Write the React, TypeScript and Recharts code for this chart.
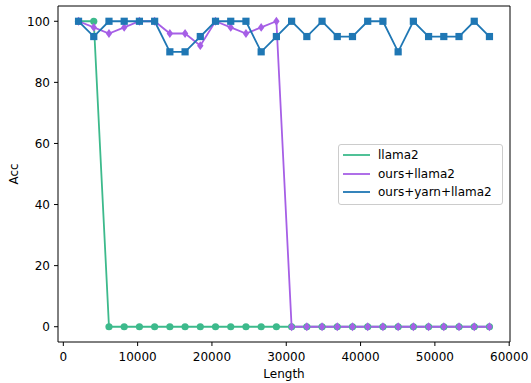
import React from 'react';
import { LineChart, Line, XAxis, YAxis, ReferenceArea, Label } from 'recharts';

const lengths = [2048, 4096, 6144, 8192, 10240, 12288, 14336, 16384, 18432, 20480, 22528, 24576, 26624, 28672, 30720, 32768, 34816, 36864, 38912, 40960, 43008, 45056, 47104, 49152, 51200, 53248, 55296, 57344];
const llama2 = [100, 100, 0, 0, 0, 0, 0, 0, 0, 0, 0, 0, 0, 0, 0, 0, 0, 0, 0, 0, 0, 0, 0, 0, 0, 0, 0, 0];
const oursLlama2 = [100, 98, 96, 98, 100, 100, 96, 96, 92, 100, 98, 96, 98, 100, 0, 0, 0, 0, 0, 0, 0, 0, 0, 0, 0, 0, 0, 0];
const oursYarnLlama2 = [100, 95, 100, 100, 100, 100, 90, 90, 95, 100, 100, 100, 90, 95, 100, 95, 100, 95, 95, 100, 100, 90, 100, 95, 95, 95, 100, 95];
const xTicks = [0, 10000, 20000, 30000, 40000, 50000, 60000];
const yTicks = [0, 20, 40, 60, 80, 100];
const seriesNames = ['llama2', 'ours+llama2', 'ours+yarn+llama2'];

const GREEN = '#3dba8c';
const PURPLE = '#a65fe6';
const BLUE = '#1f77b4';
const COLORS = [GREEN, PURPLE, BLUE];

const data = lengths.map((x, i) => ({
  x,
  llama2: llama2[i],
  ours: oursLlama2[i],
  yarn: oursYarnLlama2[i],
}));

const FONT = '"DejaVu Sans", sans-serif';
const X_DOMAIN: [number, number] = [-717, 60109];
const Y_DOMAIN: [number, number] = [-5, 105];

const SquareDot = (props: any) => {
  const { cx, cy, index } = props;
  if (cx == null || cy == null) return <g key={index} />;
  return <rect key={index} x={cx - 3.6} y={cy - 3.6} width={7.2} height={7.2} fill={BLUE} />;
};

const DiamondDot = (props: any) => {
  const { cx, cy, index } = props;
  if (cx == null || cy == null) return <g key={index} />;
  const w = 3.2;
  const h = 4.4;
  return (
    <path
      key={index}
      d={`M${cx},${cy - h}L${cx + w},${cy}L${cx},${cy + h}L${cx - w},${cy}Z`}
      fill={PURPLE}
    />
  );
};

const LegendBox = () => (
  <div
    style={{
      position: 'absolute',
      left: 338,
      top: 144,
      boxSizing: 'border-box',
      width: 165,
      height: 61,
      border: '1px solid #cccccc',
      borderRadius: 3,
      background: 'rgba(255,255,255,0.8)',
      paddingTop: 1,
      paddingLeft: 4,
      fontFamily: FONT,
      fontSize: 12,
      color: '#000',
    }}
  >
    {seriesNames.map((name, i) => (
      <div key={name} style={{ display: 'flex', alignItems: 'center', height: 18.5 }}>
        <svg width={27} height={4} style={{ display: 'block' }}>
          <line x1={0} y1={2} x2={27} y2={2} stroke={COLORS[i]} strokeWidth={1.8} />
        </svg>
        <span style={{ marginLeft: 8, whiteSpace: 'nowrap' }}>{name}</span>
      </div>
    ))}
  </div>
);

export default function App() {
  return (
    <div style={{ position: 'absolute', left: 0, top: 0, width: 531, height: 383 }}>
      <LineChart
        width={531}
        height={383}
        data={data}
        margin={{ top: 6, right: 21, bottom: 0, left: 0 }}
        style={{ fontFamily: FONT }}
      >
        <ReferenceArea
          x1={X_DOMAIN[0]}
          x2={X_DOMAIN[1]}
          y1={Y_DOMAIN[0]}
          y2={Y_DOMAIN[1]}
          fill="none"
          stroke="#000"
          strokeWidth={1}
          fillOpacity={0}
        />
        <XAxis
          dataKey="x"
          type="number"
          domain={X_DOMAIN}
          ticks={xTicks}
          allowDataOverflow
          height={41}
          axisLine={false}
          tickLine={{ stroke: '#000', strokeWidth: 1 }}
          tickSize={4}
          tickMargin={6}
          tick={{ fontSize: 12, fill: '#000', fontFamily: FONT }}
          interval={0}
        >
          <Label value="Length" position="insideBottom" offset={5.5} style={{ fontSize: 12, fill: '#000', fontFamily: FONT }} />
        </XAxis>
        <YAxis
          type="number"
          domain={Y_DOMAIN}
          ticks={yTicks}
          allowDataOverflow
          width={58}
          axisLine={false}
          tickLine={{ stroke: '#000', strokeWidth: 1 }}
          tickSize={4}
          tickMargin={4}
          tick={{ fontSize: 12, fill: '#000', fontFamily: FONT }}
          interval={0}
        >
          <Label
            value="Acc"
            angle={-90}
            position="insideLeft"
            offset={14}
            style={{ fontSize: 12, fill: '#000', fontFamily: FONT, textAnchor: 'middle' }}
          />
        </YAxis>
        <Line
          type="linear"
          dataKey="llama2"
          name={seriesNames[0]}
          stroke={GREEN}
          strokeWidth={1.8}
          dot={{ r: 3.6, fill: GREEN, stroke: GREEN, strokeWidth: 0 }}
          activeDot={false}
          isAnimationActive={false}
        />
        <Line
          type="linear"
          dataKey="ours"
          name={seriesNames[1]}
          stroke={PURPLE}
          strokeWidth={1.8}
          dot={DiamondDot}
          activeDot={false}
          isAnimationActive={false}
        />
        <Line
          type="linear"
          dataKey="yarn"
          name={seriesNames[2]}
          stroke={BLUE}
          strokeWidth={1.8}
          dot={SquareDot}
          activeDot={false}
          isAnimationActive={false}
        />
      </LineChart>
      <LegendBox />
    </div>
  );
}
